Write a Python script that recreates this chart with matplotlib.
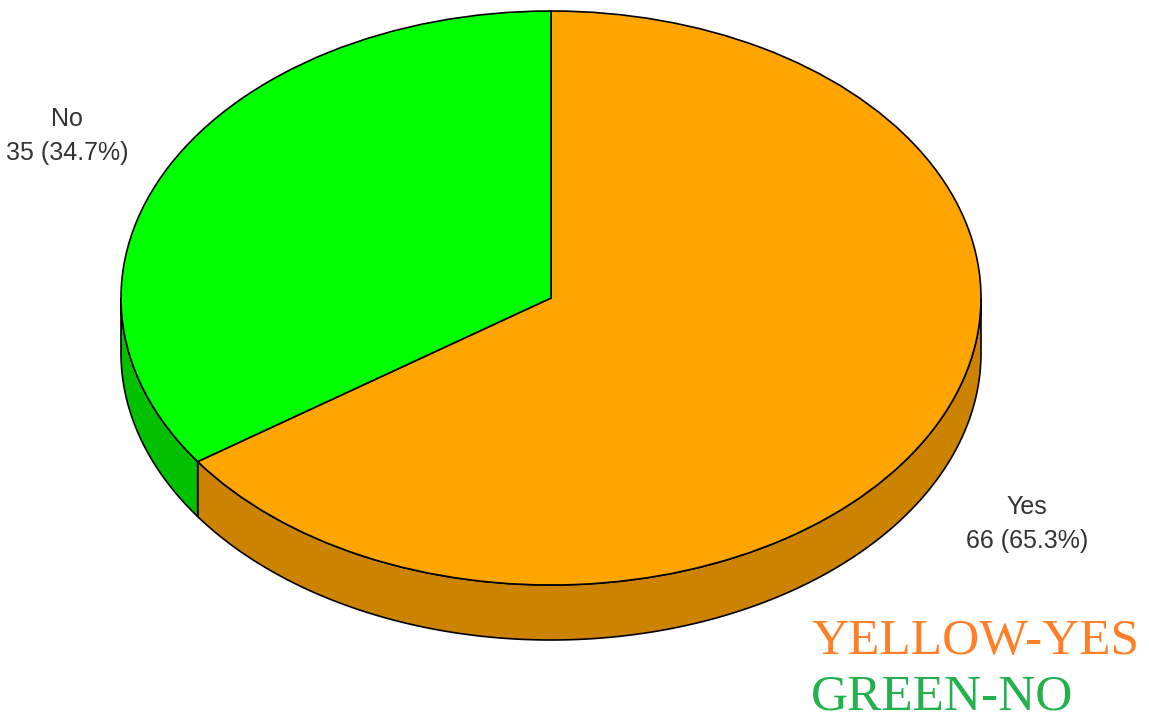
import numpy as np
import matplotlib
matplotlib.use('Agg')
import matplotlib.pyplot as plt

# data
labels = ['Yes', 'No']
counts = [66, 35]
top_colors = ['#FFA500', '#00FF00']
side_colors = ['#CC8400', '#00C000']
legend_lines = ['YELLOW-YES', 'GREEN-NO']
legend_colors = ['#FF7F27', '#22B14C']

W, H = 1149, 724
cx, cy = 551, 298      # ellipse centre, pixels from top-left
rx, ry = 430, 287      # ellipse radii, pixels
depth = 55             # thickness of the pie, pixels
k = ry / rx            # vertical squash

fig = plt.figure(figsize=(W / 100, H / 100), dpi=100)
ax = fig.add_axes([0, 0, 1, 1])

def P(px, py):
    # pixel position -> data position (y stretched so the pie is a circle)
    return px, (H - py) / k

c = P(cx, cy)
wedges, _ = ax.pie(counts, colors=top_colors, startangle=90, counterclock=False,
                   center=c, radius=rx, labeldistance=None,
                   wedgeprops=dict(edgecolor='black', linewidth=1.2, zorder=3))

# side band of the 3d pie: lower half of each wedge, pushed down by depth
d = depth / k
for w, col in zip(wedges, side_colors):
    t1, t2 = w.theta1 % 360, w.theta2 % 360
    if t2 <= t1:
        t2 += 360
    lo, hi = max(t1, 180), min(t2, 360)
    if hi <= lo:
        continue
    t = np.radians(np.linspace(lo, hi, 200))
    xs = c[0] + rx * np.cos(t)
    ys = c[1] + rx * np.sin(t)
    px = np.concatenate([xs, xs[::-1]])
    py = np.concatenate([ys, ys[::-1] - d])
    ax.fill(px, py, color=col, ec='black', lw=1.2, zorder=2)

ax.set_aspect('auto')
ax.set_xlim(0, W)
ax.set_ylim(0, H / k)
ax.axis('off')

# value labels
total = sum(counts)
label_pos = {'No': (67, 136), 'Yes': (1027, 524)}
for lab, n in zip(labels, counts):
    x, y = label_pos[lab]
    ax.text(*P(x, y), f'{lab}\n{n} ({100 * n / total:.1f}%)', ha='center', va='center',
            fontsize=18, family='Liberation Sans', color='#333333', linespacing=1.55)

# hand written legend
for i, (s, col) in enumerate(zip(legend_lines, legend_colors)):
    ax.text(*P(811, 642 + i * 55), s, ha='left', va='center', fontsize=37,
            family='Liberation Serif', color=col)

fig.savefig('out.png', dpi=100)
